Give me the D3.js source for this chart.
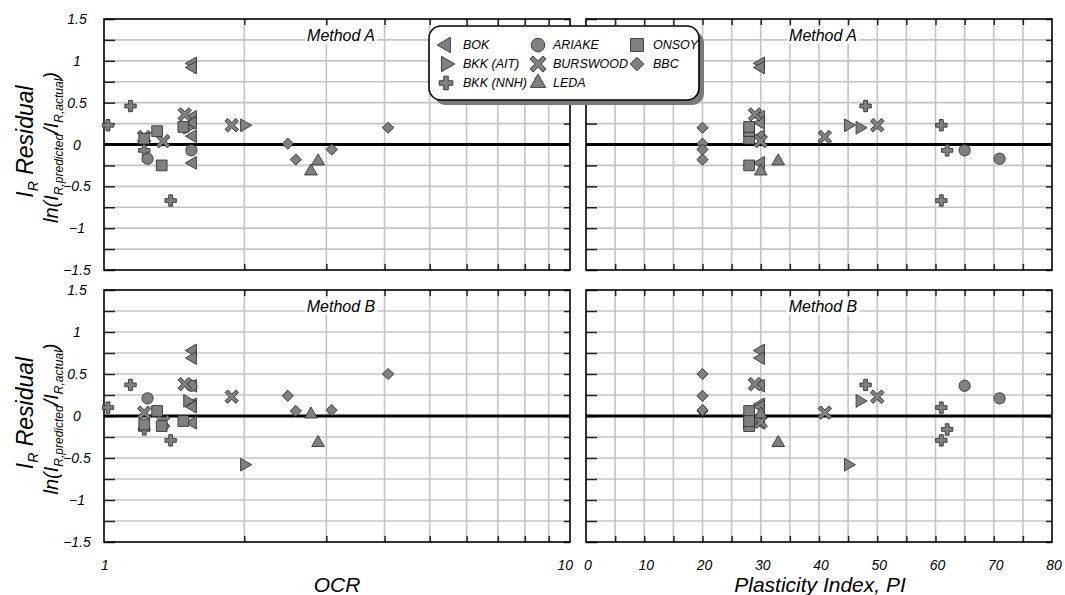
<!DOCTYPE html>
<html><head><meta charset="utf-8">
<script src="https://cdn.jsdelivr.net/npm/d3@7"></script>
<style>
body{margin:0;background:#fff}
text{font-family:"Liberation Sans",Arial,sans-serif;font-style:italic;fill:#000}
</style>
</head><body>
<svg id="chart" width="1065" height="595"></svg>
<script>
// Each row: [OCR, Plasticity Index, residual Method A, residual Method B]
const BOK      = [[1.55,30,0.97,0.78],[1.55,30,0.92,0.69],[1.55,30,0.33,0.36],[1.55,30,0.26,0.14],[1.55,30,0.10,0.11],[1.55,30,-0.22,-0.08]];
const BKK_AIT  = [[1.51,47,0.20,0.18],[2.00,45,0.23,-0.58]];
const BKK_NNH  = [[1.02,61,0.23,0.10],[1.14,48,0.46,0.37],[1.22,62,-0.07,-0.16],[1.39,61,-0.67,-0.29]];
const ARIAKE   = [[1.24,71,-0.17,0.21],[1.54,65,-0.07,0.36]];
const BURSWOOD = [[1.22,41,0.09,0.04],[1.34,30,0.04,-0.07],[1.49,29,0.36,0.38],[1.88,50,0.23,0.23]];
const LEDA     = [[2.78,30,-0.32,0.02],[2.88,33,-0.20,-0.32]];
const ONSOY    = [[1.22,28,0.07,-0.10],[1.30,28,0.16,0.06],[1.33,28,-0.25,-0.12],[1.48,28,0.21,-0.06]];
const BBC      = [[2.48,20,0.01,0.24],[2.58,20,-0.18,0.06],[3.08,20,-0.06,0.07],[4.07,20,0.20,0.50]];

const siteNames = ["BOK","BKK (AIT)","BKK (NNH)","ARIAKE","BURSWOOD","LEDA","ONSOY","BBC"];
const yTickLabels = [-1.5,-1,-0.5,0,0.5,1,1.5];
const ocrTickLabels = [1,10];
const piTickLabels = [0,10,20,30,40,50,60,70,80];
const methods = ["Method A","Method B"];

const sites = [
  {name:siteNames[0], data:BOK,      shape:"triL"},
  {name:siteNames[1], data:BKK_AIT,  shape:"triR"},
  {name:siteNames[2], data:BKK_NNH,  shape:"plus"},
  {name:siteNames[3], data:ARIAKE,   shape:"circle"},
  {name:siteNames[4], data:BURSWOOD, shape:"x"},
  {name:siteNames[5], data:LEDA,     shape:"triU"},
  {name:siteNames[6], data:ONSOY,    shape:"square"},
  {name:siteNames[7], data:BBC,      shape:"diamond"}
];

const svg = d3.select("#chart");
const FILL = "#808080", STROKE = "#333";

const xOCR = d3.scaleLog().domain([1,10]).range([104,570]);
const xPI  = d3.scaleLinear().domain([0,80]).range([586,1052]);
const yScales = [
  d3.scaleLinear().domain([-1.5,1.5]).range([270,19]),
  d3.scaleLinear().domain([-1.5,1.5]).range([542,290])
];

// thin-armed cross symbol (drawn rotated 45° for the X marker)
const symbolThinCross = {
  draw(ctx, size){
    const L = Math.sqrt(size)*0.9, t = L*0.24;
    ctx.moveTo(-L,-t); ctx.lineTo(-t,-t); ctx.lineTo(-t,-L); ctx.lineTo(t,-L);
    ctx.lineTo(t,-t); ctx.lineTo(L,-t); ctx.lineTo(L,t); ctx.lineTo(t,t);
    ctx.lineTo(t,L); ctx.lineTo(-t,L); ctx.lineTo(-t,t); ctx.lineTo(-L,t); ctx.closePath();
  }
};

function symbolPath(shape, k){
  k = k || 1;
  switch(shape){
    case "triL": case "triR": case "triU": return d3.symbol(d3.symbolTriangle, 70*k)();
    case "plus": return d3.symbol(d3.symbolCross, 72*k)();
    case "x": return d3.symbol(symbolThinCross, 72*k)();
    case "circle": return d3.symbol(d3.symbolCircle, 100*k)();
    case "square": return d3.symbol(d3.symbolSquare, 115*k)();
    case "diamond": return d3.symbol(d3.symbolSquare, 62*k)();
  }
}
function symbolRot(shape){
  return {triL:-90, triR:90, x:45, diamond:45}[shape] || 0;
}

[0,1].forEach(row => {
  const y = yScales[row];
  [0,1].forEach(col => {
    const x = col === 0 ? xOCR : xPI;
    const [x0,x1] = x.range();
    const [yb,yt] = y.range();
    const g = svg.append("g");
    // grid
    const vgrid = col === 0 ? d3.range(2,10) : d3.range(5,80,5);
    const hgrid = d3.range(-1.25,1.5,0.25).filter(v => Math.abs(v) > 1e-9);
    g.append("g").selectAll("line").data(vgrid).join("line")
      .attr("x1",d=>x(d)).attr("x2",d=>x(d)).attr("y1",yt).attr("y2",yb)
      .attr("stroke","#c4c4c4").attr("stroke-width",1.6);
    g.append("g").selectAll("line").data(hgrid).join("line")
      .attr("x1",x0).attr("x2",x1).attr("y1",d=>y(d)).attr("y2",d=>y(d))
      .attr("stroke","#c4c4c4").attr("stroke-width",1.6);
    // inward ticks via axes
    const tickVals = d3.range(-1.5,1.51,0.25);
    const styleAxis = a => { a.select(".domain").remove(); a.selectAll("line").attr("stroke","#222").attr("stroke-width",1.5); };
    g.append("g").attr("transform",`translate(${x0},0)`)
      .call(d3.axisLeft(y).tickValues(tickVals).tickSize(-11).tickFormat("")).call(styleAxis);
    g.append("g").attr("transform",`translate(${x1},0)`)
      .call(d3.axisRight(y).tickValues(tickVals).tickSize(-6).tickFormat("")).call(styleAxis);
    g.append("g").attr("transform",`translate(0,${yt})`)
      .call(d3.axisTop(x).tickValues(vgrid).tickSize(-6).tickFormat("")).call(styleAxis);
    g.append("g").attr("transform",`translate(0,${yb})`)
      .call(d3.axisBottom(x).tickValues(vgrid).tickSize(-6).tickFormat("")).call(styleAxis);
    // zero line
    g.append("line").attr("x1",x0).attr("x2",x1).attr("y1",y(0)).attr("y2",y(0))
      .attr("stroke","#000").attr("stroke-width",3);
    // frame
    g.append("rect").attr("x",x0).attr("y",yt).attr("width",x1-x0).attr("height",yb-yt)
      .attr("fill","none").attr("stroke","#000").attr("stroke-width",1.6);
    // title with white background
    const cx = (x0+x1)/2 + 4;
    const bgRect = g.append("rect").attr("fill","#fff");
    const tt = g.append("text").attr("x",cx).attr("y",yt+22).attr("text-anchor","middle")
      .attr("font-size",16).text(methods[row]);
    const bb = tt.node().getBBox();
    bgRect.attr("x",bb.x-2).attr("y",bb.y).attr("width",bb.width+4).attr("height",bb.height);
    // points
    sites.forEach(s => {
      g.append("g").selectAll("path").data(s.data).join("path")
        .attr("d", symbolPath(s.shape))
        .attr("transform", d => `translate(${x(d[col])},${y(d[2+row])}) rotate(${symbolRot(s.shape)})`)
        .attr("fill",FILL).attr("stroke",STROKE).attr("stroke-width",0.9);
    });
  });
  // y tick labels
  svg.append("g").selectAll("text").data(yTickLabels).join("text")
    .attr("x",77).attr("y",d=>y(d)+5).attr("text-anchor","middle").attr("font-size",14)
    .text(d=>d3.format("")(d));
  // y titles
  const cy = (y.range()[0]+y.range()[1])/2;
  const t1 = svg.append("text").attr("transform",`translate(33,${cy-3}) rotate(-90)`).attr("text-anchor","middle").attr("font-size",23);
  t1.append("tspan").text("I");
  t1.append("tspan").attr("font-size",14).attr("dy",5).text("R");
  t1.append("tspan").attr("dy",-5).text(" Residual");
  const t2 = svg.append("text").attr("transform",`translate(58,${cy+3}) rotate(-90)`).attr("text-anchor","middle").attr("font-size",20);
  t2.append("tspan").text("ln(I");
  t2.append("tspan").attr("font-size",12).attr("dy",5).text("R,predicted");
  t2.append("tspan").attr("dy",-5).text("/I");
  t2.append("tspan").attr("font-size",12).attr("dy",5).text("R,actual");
  t2.append("tspan").attr("dy",-5).text(")");
});

// x tick labels
svg.append("g").selectAll("text").data(ocrTickLabels).join("text")
  .attr("x",d=>d===10 ? xOCR(d)+3 : xOCR(d)+1).attr("y",570)
  .attr("text-anchor",d=>d===10?"end":"middle").attr("font-size",14).text(d=>d);
svg.append("g").selectAll("text").data(piTickLabels).join("text")
  .attr("x",d=>xPI(d)+2).attr("y",570).attr("text-anchor","middle").attr("font-size",14).text(d=>d);
// x titles
svg.append("text").attr("x",337).attr("y",592).attr("text-anchor","middle").attr("font-size",21).text("OCR");
svg.append("text").attr("x",820).attr("y",592).attr("text-anchor","middle").attr("font-size",21).text("Plasticity Index, PI");

// legend
const lg = svg.append("g");
lg.append("rect").attr("x",434).attr("y",31).attr("width",270).attr("height",74).attr("rx",12).attr("fill","#7a7a7a");
lg.append("rect").attr("x",429).attr("y",26).attr("width",270).attr("height",74).attr("rx",12)
  .attr("fill","#fff").attr("stroke","#000").attr("stroke-width",1.6);
const legendCols = [[0,1,2],[3,4,5],[6,7]];
const colX = [446,538,637], colT = [463,553,653], rowY = [45,64,83];
legendCols.forEach((idxs,ci) => idxs.forEach((si,ri) => {
  const s = sites[si];
  lg.append("path").attr("d",symbolPath(s.shape,1.45))
    .attr("transform",`translate(${colX[ci]},${rowY[ri]}) rotate(${symbolRot(s.shape)})`)
    .attr("fill",FILL).attr("stroke",STROKE).attr("stroke-width",0.9);
  lg.append("text").attr("x",colT[ci]).attr("y",rowY[ri]+4).attr("font-size",12.5).text(s.name);
}));
</script>
</body></html>
